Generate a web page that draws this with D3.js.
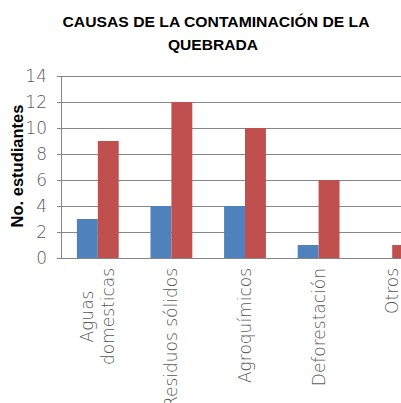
<!DOCTYPE html>
<html>
<head>
<meta charset="utf-8">
<script src="https://cdn.jsdelivr.net/npm/d3@7"></script>
<style>
  body { margin: 0; background: #fff; overflow: hidden; }
  svg { display: block; }
</style>
</head>
<body>
<script>
const w = 401;
const h = 403;

const categories = [['Aguas', 'domesticas'], ['Residuos sólidos'], ['Agroquímicos'], ['Deforestación'], ['Otros']];
const serie1 = [3, 4, 4, 1, 0];
const serie2 = [9, 12, 10, 6, 1];
const yTicks = [0, 2, 4, 6, 8, 10, 12, 14];

const plotLeft = 61, plotTop = 76, plotBottom = 258, plotRight = 429;
const labelFont = '"DejaVu Sans", sans-serif';

const svg = d3.select('body')
  .append('svg')
  .attr('width', w)
  .attr('height', h);

const x = d3.scaleBand()
  .domain(d3.range(categories.length))
  .range([plotLeft, plotRight]);

const xInner = d3.scaleBand()
  .domain(['s1', 's2'])
  .range([0, x.bandwidth()])
  .paddingOuter(0.76);

const y = d3.scaleLinear()
  .domain([0, 14])
  .range([plotBottom, plotTop]);

// gridlines
svg.append('g')
  .selectAll('line')
  .data(yTicks)
  .enter()
  .append('line')
  .attr('x1', plotLeft - 4)
  .attr('x2', w)
  .attr('y1', d => y(d) + 0.5)
  .attr('y2', d => y(d) + 0.5)
  .attr('stroke', '#868686')
  .attr('stroke-width', 1);

// y axis line
svg.append('line')
  .attr('x1', plotLeft + 0.5)
  .attr('x2', plotLeft + 0.5)
  .attr('y1', plotTop)
  .attr('y2', plotBottom)
  .attr('stroke', '#868686');

// bars
const data = categories.map((c, i) => ({ i: i, s1: serie1[i], s2: serie2[i] }));
const groups = svg.selectAll('g.cat')
  .data(data)
  .enter()
  .append('g')
  .attr('class', 'cat')
  .attr('transform', d => `translate(${x(d.i)},0)`);

groups.append('rect')
  .attr('x', d => xInner('s1'))
  .attr('y', d => y(d.s1))
  .attr('width', xInner.bandwidth())
  .attr('height', d => y(0) - y(d.s1))
  .attr('fill', '#4f81bd');

groups.append('rect')
  .attr('x', d => xInner('s2'))
  .attr('y', d => y(d.s2))
  .attr('width', xInner.bandwidth())
  .attr('height', d => y(0) - y(d.s2))
  .attr('fill', '#c0504d');

// baseline
svg.append('line')
  .attr('x1', plotLeft)
  .attr('x2', w)
  .attr('y1', plotBottom + 0.5)
  .attr('y2', plotBottom + 0.5)
  .attr('stroke', '#868686');

// y tick labels
svg.selectAll('text.ytick')
  .data(yTicks)
  .enter()
  .append('text')
  .attr('class', 'ytick')
  .text(d => d)
  .attr('x', 47)
  .attr('y', d => y(d) + 6)
  .attr('text-anchor', 'end')
  .style('font-family', labelFont)
  .style('font-weight', 200)
  .style('font-size', '17px')
  .style('fill', '#595959');

// x labels (rotated)
categories.forEach((lines, i) => {
  const cx = x(i) + x.bandwidth() / 2;
  const t = svg.append('text')
    .attr('transform', `translate(${cx},268) rotate(-90)`)
    .attr('text-anchor', 'middle')
    .style('font-family', labelFont)
    .style('font-weight', 200)
    .style('font-size', '17px')
    .style('fill', '#595959');
  const n = lines.length;
  lines.forEach((l, k) => {
    t.append('tspan')
      .attr('x', 0)
      .attr('y', 6 + (k - (n - 1) / 2) * 21)
      .text(l);
  });
  // block ends at the axis: shift by half the block length
  const bb = t.node().getBBox();
  t.attr('transform', `translate(${cx},${268 + bb.width / 2}) rotate(-90)`);
});

// title
svg.append('text')
  .attr('x', 216)
  .attr('y', 27)
  .attr('text-anchor', 'middle')
  .text('CAUSAS DE LA CONTAMINACIÓN DE LA')
  .attr('textLength', 307)
  .attr('lengthAdjust', 'spacingAndGlyphs')
  .style('font-family', 'Liberation Sans, sans-serif')
  .style('font-weight', 'bold')
  .style('font-size', '15.5px')
  .style('fill', '#000');

svg.append('text')
  .attr('x', 213)
  .attr('y', 50)
  .attr('text-anchor', 'middle')
  .text('QUEBRADA')
  .attr('textLength', 90)
  .attr('lengthAdjust', 'spacingAndGlyphs')
  .style('font-family', 'Liberation Sans, sans-serif')
  .style('font-weight', 'bold')
  .style('font-size', '15.5px')
  .style('fill', '#000');

// y axis title
svg.append('text')
  .attr('transform', 'translate(23,166) rotate(-90)')
  .attr('text-anchor', 'middle')
  .text('No. estudiantes')
  .style('font-family', 'Liberation Sans, sans-serif')
  .style('font-weight', 'bold')
  .style('font-size', '16.5px')
  .style('fill', '#000');
</script>
</body>
</html>
